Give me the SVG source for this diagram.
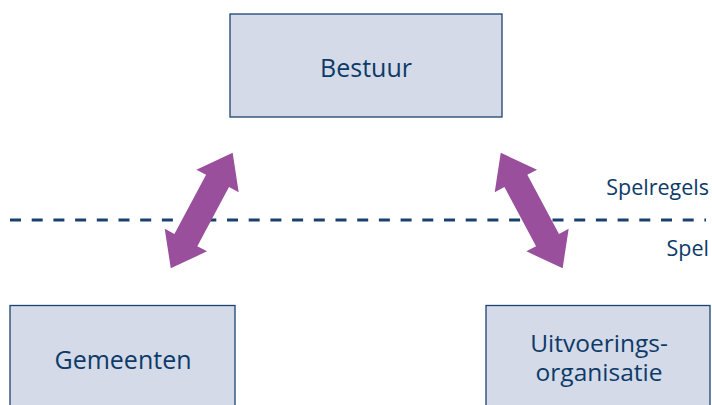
<svg xmlns="http://www.w3.org/2000/svg" width="712" height="405" viewBox="0 0 712 405">
<style>
.box{fill:#d4dae7;stroke:#1d4270;stroke-width:1.3}
.lbl{font-family:"Open Sans","Noto Sans",sans-serif;fill:#0d3a69;font-size:25px;font-weight:500;text-anchor:middle}
.lbl2{font-size:24.5px}
.side{font-family:"Open Sans","Noto Sans",sans-serif;fill:#0d3a69;font-size:21.5px;font-weight:500;text-anchor:end}
.arrow{fill:#994f9c}
</style>
<defs>
<polygon id="dbl" points="65.5,0 33.5,-24 33.5,-13 -33.5,-13 -33.5,-24 -65.5,0 -33.5,24 -33.5,13 33.5,13 33.5,24"/>
</defs>
<g id="divider">
<line x1="10" y1="220" x2="706" y2="220" stroke="#1a416d" stroke-width="3" stroke-dasharray="11,10.7"/>
<text class="side" x="709" y="195">Spelregels</text>
<text class="side" x="709" y="256">Spel</text>
</g>
<g id="bestuur">
<rect class="box" x="230" y="14" width="272" height="103"/>
<text class="lbl" x="366" y="77">Bestuur</text>
</g>
<g id="gemeenten">
<rect class="box" x="10" y="305.5" width="225" height="110"/>
<text class="lbl" x="123" y="368.5">Gemeenten</text>
</g>
<g id="uitvoeringsorganisatie">
<rect class="box" x="486" y="305.5" width="224" height="110"/>
<text class="lbl lbl2" x="599" y="351.5">Uitvoerings-</text>
<text class="lbl lbl2" x="599" y="381">organisatie</text>
</g>
<g id="connectors">
<use href="#dbl" class="arrow" transform="translate(201.7,210.5) rotate(-61.8)"/>
<use href="#dbl" class="arrow" transform="translate(531.7,210.5) rotate(61.8)"/>
</g>
</svg>
